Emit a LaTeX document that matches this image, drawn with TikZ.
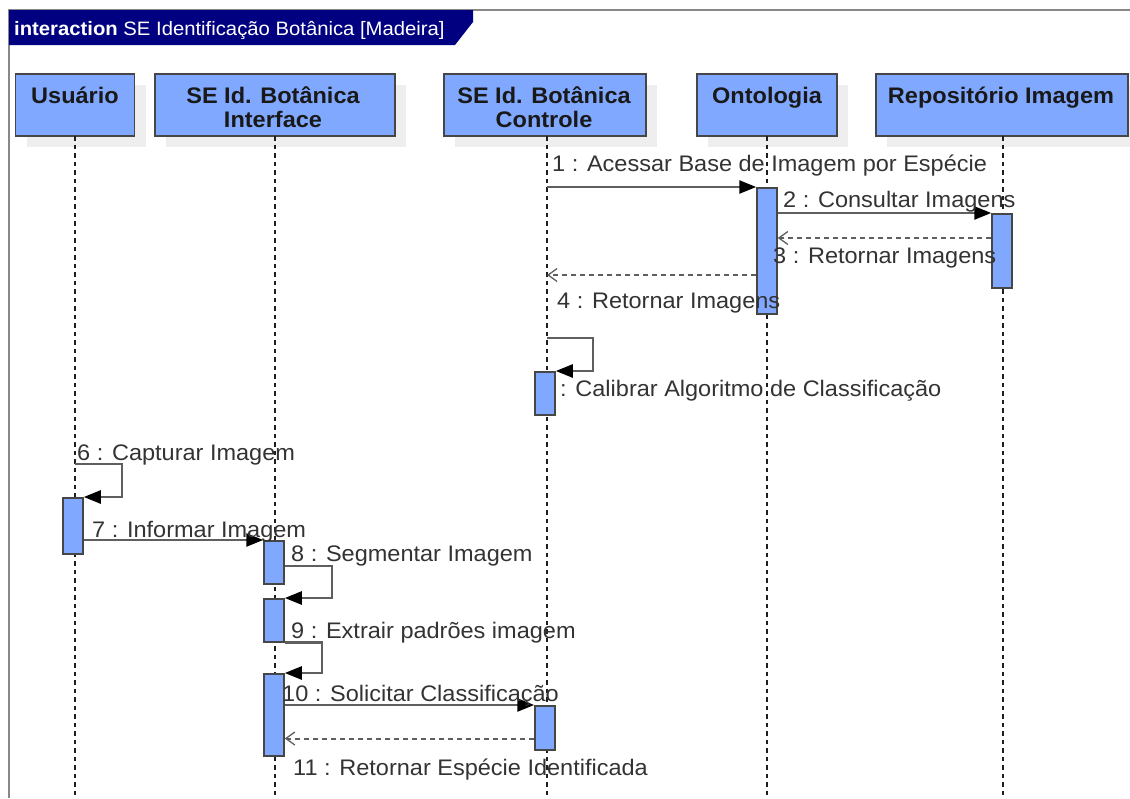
\documentclass[tikz,border=0pt]{standalone}
\usepackage{fontspec}
\setmainfont{Liberation Sans}[FakeStretch=1.045]
\usetikzlibrary{arrows.meta,calc,shadows}
\definecolor{boxblue}{RGB}{128,168,255}
\definecolor{navyblue}{RGB}{0,0,128}
\definecolor{msggray}{RGB}{95,95,95}
\definecolor{framegray}{RGB}{136,136,136}
\definecolor{shadowgray}{RGB}{238,238,238}
\definecolor{labeltext}{RGB}{51,51,51}
\definecolor{headtext}{RGB}{25,25,25}
\definecolor{edgegray}{RGB}{70,70,70}
\definecolor{lifegray}{RGB}{30,30,30}
\begin{document}
\begin{tikzpicture}[x=1pt,y=-1pt,
  head/.style={draw=edgegray, line width=1.5pt, fill=boxblue, inner sep=0pt,
    minimum height=62pt, anchor=north,
    drop shadow={shadow xshift=11pt, shadow yshift=-11pt, fill=shadowgray, opacity=1}},
  headtxt/.style={text=headtext, font=\fontsize{22.5}{27}\selectfont\bfseries, anchor=base, inner sep=0pt},
  act/.style={draw=edgegray, line width=1.5pt, fill=boxblue, inner sep=0pt, minimum width=20pt, anchor=north},
  lifeline/.style={draw=lifegray, line width=1.6pt, dash pattern=on 4.5pt off 4pt},
  msg/.style={draw=msggray, line width=2.5pt, -{Triangle[length=17pt,width=13pt,color=black]}},
  ret/.style={draw=msggray, line width=2pt, dash pattern=on 5pt off 4pt, -{Straight Barb[length=9pt,width=13pt,line width=1.3pt,color=msggray]}},
  lbl/.style={text=labeltext, font=\fontsize{22.5}{27}\selectfont, anchor=base west, inner sep=0pt},
  framestyle/.style={draw=framegray, line width=2.5pt}
]
\useasboundingbox (0,0) rectangle (1130,798);
\fill[white] (0,0) rectangle (1130,798);

% frame
\draw[framestyle] (9,798) -- (9,10) -- (1131,10);
\fill[navyblue] (9,10) -- (473,10) -- (473,22) -- (455,45) -- (9,45) -- cycle;
\node[anchor=base west, inner sep=0pt, text=white, font=\fontsize{19.4}{23}\selectfont] (title) at (14,35)
  {\textbf{interaction} SE Identificação Botânica [Madeira]};

% heads
\node[head, minimum width=119pt] (hU) at (75,73) {};
\node[head, minimum width=240pt] (hI) at (275,73) {};
\node[head, minimum width=202pt] (hC) at (545,73) {};
\node[head, minimum width=140pt] (hO) at (767,73) {};
\node[head, minimum width=252pt] (hR) at (1002,73) {};

\node[headtxt] (tU) at (75,103) {Usuário};
\node[headtxt] (tI1) at (273,103) {SE Id. Botânica};
\node[headtxt] (tI2) at (273,127) {Interface};
\node[headtxt] (tC1) at (544,103) {SE Id. Botânica};
\node[headtxt] (tC2) at (544,127) {Controle};
\node[headtxt] (tO) at (767,103) {Ontologia};
\node[headtxt] (tR) at (1001,103) {Repositório Imagem};

% lifelines
\coordinate (lU) at (75,136);
\coordinate (lI) at (275,136);
\coordinate (lC) at (547,136);
\coordinate (lO) at (767,136);
\coordinate (lR) at (1003,136);
\coordinate (eU) at (75,800);
\coordinate (eI) at (275,800);
\coordinate (eC) at (547,800);
\coordinate (eO) at (767,800);
\coordinate (eR) at (1003,800);
\draw[lifeline] (lU) -- (eU);
\draw[lifeline] (lI) -- (eI);
\draw[lifeline] (lC) -- (eC);
\draw[lifeline] (lO) -- (eO);
\draw[lifeline] (lR) -- (eR);

% activations
\node[act, minimum height=126pt] (aO) at (767,187) {};
\node[act, minimum height=74pt] (aR) at (1002,213) {};
\node[act, minimum height=43pt] (aC1) at (545,371) {};
\node[act, minimum height=44pt] (aC2) at (545,705) {};
\node[act, minimum height=56pt] (aU) at (73,497) {};
\node[act, minimum height=43pt] (aI1) at (274,540) {};
\node[act, minimum height=43pt] (aI2) at (274,598) {};
\node[act, minimum height=82pt] (aI3) at (274,673) {};

% messages
\draw[msg] (aO.north west -| lC) -- (aO.north west);
\draw[msg] (aR.north west -| aO.east) -- (aR.north west);
\draw[ret] ($(aR.north west)+(0,25)$) -- ($(aR.north west -| aO.east)+(0,25)$);
\draw[ret] ($(aO.north west)+(0,88)$) -- ($(aO.north west -| lC)+(0,88)$);
\draw[msg] (lC |- 0,338) -- (593,338) |- (aC1.north east);
\draw[msg] (lU |- 0,464) -- (122,464) |- (aU.north east);
\draw[msg] (aU.east |- aI1.north) -- (aI1.north west);
\draw[msg] (aI1.east |- 0,566) -- (332,566) |- (aI2.north east);
\draw[msg] (aI2.south east) -- (aI2.south east -| 322,0) |- (aI3.north east);
\draw[msg] (aI3.east |- aC2.north) -- (aC2.north west);
\draw[ret] ($(aC2.south west)+(0,-12)$) -- ($(aC2.south west -| aI3.east)+(0,-12)$);

% labels
\node[lbl] (m1) at (552,171) {1 : Acessar Base de Imagem por Espécie};
\node[lbl] (m2) at (783,207) {2 : Consultar Imagens};
\node[lbl] (m3) at (773,263) {3 : Retornar Imagens};
\node[lbl] (m4) at (557,308) {4 : Retornar Imagens};
\node[lbl] (m5) at (560,396) {: Calibrar Algoritmo de Classificação};
\node[lbl] (m6) at (77,460) {6 : Capturar Imagem};
\node[lbl] (m7) at (92,537) {7 : Informar Imagem};
\node[lbl] (m8) at (291,561) {8 : Segmentar Imagem};
\node[lbl] (m9) at (291,638) {9 : Extrair padrões imagem};
\node[lbl] (m10) at (282,701) {10 : Solicitar Classificação};
\node[lbl] (m11) at (293,775) {11 : Retornar Espécie Identificada};
\end{tikzpicture}
\end{document}
